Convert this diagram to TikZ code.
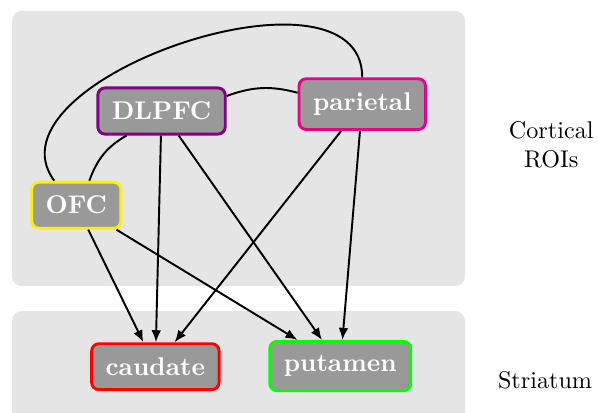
\documentclass[tikz,border=0pt]{standalone}
\usetikzlibrary{arrows.meta}
\definecolor{parietalpink}{RGB}{230,0,140}
\begin{document}
\begin{tikzpicture}[
  region/.style={fill=gray!20,rounded corners=4pt},
  roi/.style={draw,very thick,rounded corners=3pt,fill=gray!80,text=white,
    inner sep=5.8pt,font=\fontsize{10.6}{12}\selectfont\bfseries},
  link/.style={thick,-{Latex[length=5pt,width=4pt]}}
]
\useasboundingbox (0,0) rectangle (8.70,5.995);

\fill[region] (0.175,1.833) rectangle (6.766,5.835);
\fill[region] (0.175,-0.5) rectangle (6.766,1.47);

\node[align=center] (cortex) at (8.02,3.89) {Cortical\\ROIs};
\node (striatum) at (7.93,0.47) {Striatum};

\node[roi,draw=violet] (dlpfc) at (2.35,4.38) {DLPFC};
\node[roi,draw=parietalpink] (parietal) at (5.27,4.48) {parietal};
\node[roi,draw=yellow] (ofc) at (1.11,3.01) {OFC};
\node[roi,draw=red] (caudate) at (2.26,0.66) {caudate};
\node[roi,draw=green] (putamen) at (4.95,0.67) {putamen};

\draw[thick] (dlpfc.13) to[out=20,in=165] (parietal.170);
\draw[thick] (dlpfc.215) to[out=210,in=70] (ofc.62);
\draw[thick] (parietal.north) .. controls (5.27,6.72) and (-0.29,4.83) .. (ofc.132);

\foreach \a/\b in {ofc/caudate,ofc/putamen,dlpfc/caudate,dlpfc/putamen,parietal/caudate,parietal/putamen}
  \draw[link] (\a) -- (\b);

\end{tikzpicture}
\end{document}
